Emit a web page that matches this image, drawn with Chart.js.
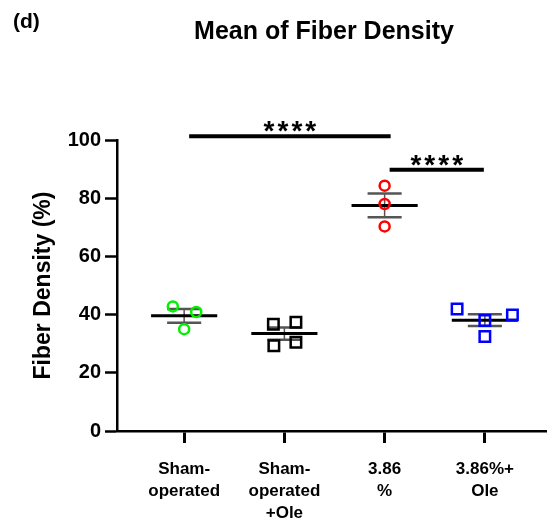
<!DOCTYPE html>
<html>
<head>
<meta charset="utf-8">
<script src="https://cdn.jsdelivr.net/npm/chart.js@4/dist/chart.umd.min.js"></script>
<style>
  html, body { margin: 0; padding: 0; background: #fff; }
  #wrap { position: relative; width: 547px; height: 528px; }
</style>
</head>
<body>
<div id="wrap"><canvas id="fiberChart"></canvas></div>
<script>
// ---------------------------------------------------------
// Datos: densidad de fibra (%) por grupo
// ---------------------------------------------------------
const groupLabels = [
    ['Sham-', 'operated'],
    ['Sham-', 'operated', '+Ole'],
    ['3.86', '%'],
    ['3.86%+', 'Ole']
];
const shamValues = [42.8, 40.9, 35.0];
const shamOleValues = [36.7, 37.4, 29.3, 30.5];
const injuryValues = [84.3, 78.0, 70.3];
const injuryOleValues = [41.9, 39.9, 38.0, 32.5];
const yTicks = [0, 20, 40, 60, 80, 100];

// comparaciones significativas: grupo inicial, grupo final, altura (%)
const sigFrom = [1.05, 3.05];
const sigTo = [3.06, 3.99];
const sigHeight = [101.3, 89.8];
const sigText = ['****', '****'];

// ---------------------------------------------------------
// Estilo de cada grupo (dispersión horizontal de los puntos)
// ---------------------------------------------------------
const groups = [
    { values: shamValues, color: '#00f000', style: 'circle', radius: 5, jitter: [-0.113, 0.12, 0] },
    { values: shamOleValues, color: '#000000', style: 'rect', radius: 7.4, jitter: [-0.11, 0.115, -0.105, 0.115] },
    { values: injuryValues, color: '#ff0000', style: 'circle', radius: 5, jitter: [0, 0, 0] },
    { values: injuryOleValues, color: '#0000ff', style: 'rect', radius: 7.4, jitter: [-0.277, 0.275, 0, 0] }
];
const MEAN_HALF = 0.33;
const CAP_HALF = 0.17;

function mean(arr) {
    return arr.reduce((a, b) => a + b, 0) / arr.length;
}

function sem(arr) {
    const m = mean(arr);
    const sd = Math.sqrt(arr.reduce((a, v) => a + (v - m) * (v - m), 0) / (arr.length - 1));
    return sd / Math.sqrt(arr.length);
}

// líneas de media y barras de error (segmentos separados por null)
const meanLine = [];
const semStems = [];
const semCaps = [];
groups.forEach((g, i) => {
    const c = i + 1;
    const m = mean(g.values);
    const s = sem(g.values);
    meanLine.push({ x: c - MEAN_HALF, y: m }, { x: c + MEAN_HALF, y: m }, { x: c, y: null });
    semStems.push({ x: c, y: m - s }, { x: c, y: m + s }, { x: c, y: null });
    semCaps.push({ x: c - CAP_HALF, y: m + s }, { x: c + CAP_HALF, y: m + s }, { x: c, y: null });
    semCaps.push({ x: c - CAP_HALF, y: m - s }, { x: c + CAP_HALF, y: m - s }, { x: c, y: null });
});

const sigLines = [];
sigFrom.forEach((f, i) => {
    sigLines.push({ x: f, y: sigHeight[i] }, { x: sigTo[i], y: sigHeight[i] }, { x: f, y: null });
});

const pointSets = groups.map((g, i) => ({
    type: 'scatter',
    data: g.values.map((v, k) => ({ x: i + 1 + g.jitter[k], y: v })),
    pointStyle: g.style,
    pointRadius: g.radius,
    pointBorderWidth: 2.5,
    pointBorderColor: g.color,
    pointBackgroundColor: 'rgba(0,0,0,0)',
    order: 0
}));

function segmentLine(data, color, width, order) {
    return {
        type: 'line',
        data: data,
        borderColor: color,
        borderWidth: width,
        pointRadius: 0,
        spanGaps: false,
        clip: false,
        order: order
    };
}

// ---------------------------------------------------------
// Textos: título, etiqueta del panel y asteriscos
// ---------------------------------------------------------
const annotations = {
    id: 'annotations',
    afterDraw(chart) {
        const ctx = chart.ctx;
        const xs = chart.scales.x;
        const ys = chart.scales.y;
        ctx.save();
        ctx.fillStyle = '#000';
        ctx.textBaseline = 'alphabetic';

        ctx.textAlign = 'left';
        ctx.font = 'bold 21px "Liberation Sans", Arial, sans-serif';
        ctx.fillText('(d)', 13, 28);

        ctx.textAlign = 'center';
        ctx.font = 'bold 25px "Liberation Sans", Arial, sans-serif';
        ctx.fillText('Mean of Fiber Density', 324, 39);

        ctx.font = 'bold 28px "Liberation Sans", Arial, sans-serif';
        ctx.letterSpacing = '3px';
        sigText.forEach((t, i) => {
            const x = xs.getPixelForValue((sigFrom[i] + sigTo[i]) / 2);
            const y = ys.getPixelForValue(sigHeight[i]);
            ctx.fillText(t, x + 1.5, y + 4);
        });
        ctx.restore();
    }
};

Chart.defaults.font.family = '"Liberation Sans", Arial, sans-serif';

const ctx = document.getElementById('fiberChart').getContext('2d');

new Chart(ctx, {
    type: 'scatter',
    data: {
        datasets: [
            ...pointSets,
            segmentLine(meanLine, '#000000', 3, 1),
            segmentLine(semCaps, '#555555', 2.5, 2),
            segmentLine(semStems, '#555555', 1.5, 2),
            segmentLine(sigLines, '#000000', 4, 3)
        ]
    },
    options: {
        responsive: true,
        maintainAspectRatio: false,
        animation: false,
        layout: {
            autoPadding: false,
            padding: { top: 140, left: 0, right: 0, bottom: 0 }
        },
        plugins: {
            legend: { display: false },
            tooltip: { enabled: false }
        },
        scales: {
            x: {
                type: 'linear',
                min: 0.33,
                max: 4.62,
                afterBuildTicks: (scale) => {
                    scale.ticks = groupLabels.map((_, i) => ({ value: i + 1 }));
                },
                afterFit: (scale) => { scale.height = 97; },
                ticks: {
                    autoSkip: false,
                    maxRotation: 0,
                    color: '#000',
                    padding: 15,
                    font: { size: 17, weight: 'bold', lineHeight: 1.3 },
                    callback: (v) => groupLabels[v - 1] || ''
                },
                grid: {
                    drawOnChartArea: false,
                    drawTicks: true,
                    tickLength: 12,
                    tickColor: '#000',
                    tickWidth: 3
                },
                border: { display: true, color: '#000', width: 2.5 }
            },
            y: {
                min: 0,
                max: 100,
                afterBuildTicks: (scale) => {
                    scale.ticks = yTicks.map(v => ({ value: v }));
                },
                afterFit: (scale) => { scale.width = 117; },
                ticks: {
                    color: '#000',
                    padding: 4,
                    font: { size: 20, weight: 'bold' }
                },
                grid: {
                    drawOnChartArea: false,
                    drawTicks: true,
                    tickLength: 12,
                    tickColor: '#000',
                    tickWidth: 2.5
                },
                border: { display: true, color: '#000', width: 2.5 },
                title: {
                    display: true,
                    text: 'Fiber Density (%)',
                    color: '#000',
                    font: { size: 23, weight: 'bold' },
                    padding: { top: 30, bottom: 0 }
                }
            }
        }
    },
    plugins: [annotations]
});
</script>
</body>
</html>
